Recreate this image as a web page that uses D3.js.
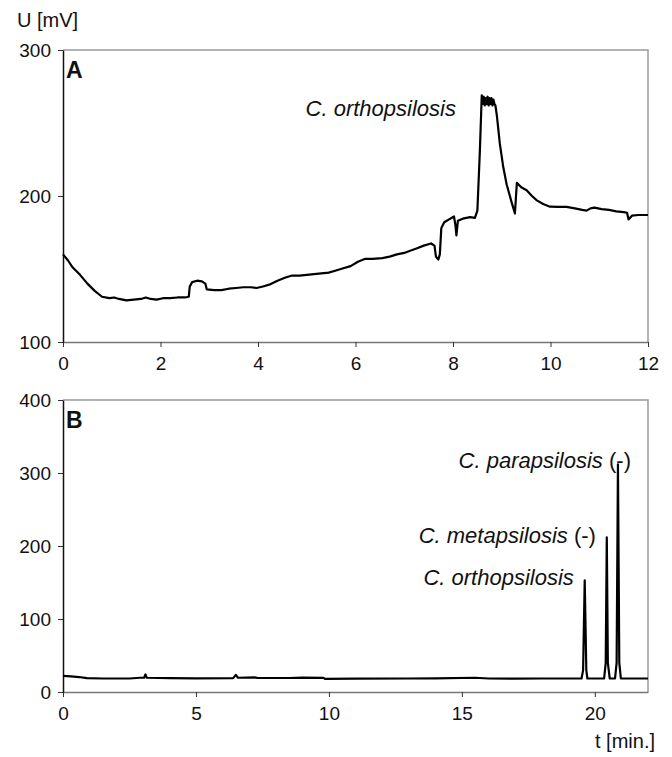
<!DOCTYPE html>
<html>
<head>
<meta charset="utf-8">
<script src="https://cdn.jsdelivr.net/npm/d3@7"></script>
<style>
  body { margin: 0; background: #fff; }
  text { font-family: "Liberation Sans", Arial, sans-serif; fill: #111; }
</style>
</head>
<body>
<div id="chart"></div>
<script>
// panel A: time [min] and signal [mV]
const timeA = [0,0.1,0.2,0.35,0.5,0.65,0.8,0.95,1.05,1.15,1.3,1.45,1.6,1.7,1.8,1.92,2.05,2.2,2.35,2.5,2.58,2.6,2.65,2.75,2.85,2.92,2.95,3.1,3.25,3.4,3.55,3.7,3.85,3.97,4.1,4.25,4.4,4.55,4.7,4.85,5,5.15,5.3,5.45,5.6,5.75,5.9,6.05,6.2,6.35,6.55,6.7,6.85,7,7.12,7.25,7.4,7.55,7.62,7.65,7.7,7.73,7.76,7.82,7.92,8.02,8.05,8.07,8.1,8.2,8.35,8.45,8.5,8.55,8.59,8.61,8.63,8.65,8.67,8.69,8.71,8.73,8.75,8.77,8.79,8.81,8.83,8.85,8.87,8.9,8.96,9.03,9.1,9.2,9.27,9.31,9.4,9.51,9.62,9.72,9.85,9.99,10.15,10.33,10.5,10.65,10.74,10.82,10.9,11.05,11.2,11.35,11.5,11.57,11.6,11.63,11.67,11.8,12];
const signalA = [160,156,151,146,140,135,131,130,130.5,129.5,128.5,129,129.5,130.5,129.5,129,130,130,130.5,130.5,131,138,141,142,141.5,140,136,135.5,135.5,136.5,137,137.5,137.5,137,138,139.5,142,144,145.5,145.5,146,146.5,147,147.5,149,150.5,152,155,157,157,157.5,158.5,160,161,162.5,164,166,167.5,166,158.5,156.5,160,178,182,184,186,180,173,183,184.5,185.5,185,190,230,269,263,268,262,267,263,268,262,267,263,267,262,266,263,262,255,236,220,208,196,188,209,206,204,200,197,194.5,192.7,192.5,192.5,191.5,190.5,190,191.5,192,191,190.5,189.5,189,188.5,184,185,186.5,187,187];

// panel B
const timeB = [0,0.3,0.6,0.9,1.5,2.5,2.9,3.05,3.1,3.15,4,5,6.4,6.5,6.58,7.2,7.3,8.5,9,9.8,9.85,11,13,14,15.5,16,17,18,19.5,19.56,19.62,19.68,19.72,20.35,20.41,20.45,20.49,20.56,20.76,20.82,20.87,20.92,20.98,22];
const signalB = [22,21.5,20.5,19,18.5,18.5,19.5,19.5,24,19.5,19,18.8,19,23.5,19.5,20,19.3,19.2,19.8,19.3,18,18.3,18.5,18.8,19.5,18.5,18.3,18.5,18.5,30,153,30,18.5,18.5,40,212,40,18.5,18.5,40,312,40,18.5,18.5];

const ticksAx = [0,2,4,6,8,10,12];
const ticksAy = [100,200,300];
const ticksBx = [0,5,10,15,20];
const ticksBy = [0,100,200,300,400];

// label anchors in data units [t, U], text end aligned
const labelsA = [{ name: "C. orthopsilosis", tail: "", t: 8.06, u: 255 }];
const labelsB = [
  { name: "C. parapsilosis", tail: " (-)", t: 21.36, u: 307 },
  { name: "C. metapsilosis", tail: " (-)", t: 20.04, u: 204 },
  { name: "C. orthopsilosis", tail: "", t: 19.21, u: 147 }
];

const W = 672, H = 757;
const svg = d3.select("#chart").append("svg").attr("width", W).attr("height", H);

function panel(opt) {
  const x = d3.scaleLinear().domain(opt.xDomain).range([63, 648]);
  const y = d3.scaleLinear().domain(opt.yDomain).range([opt.bottom, opt.top]);
  const g = svg.append("g");

  // frame (top + right)
  g.append("path")
    .attr("d", `M${x.range()[0]},${opt.top}H${x.range()[1]}V${opt.bottom}`)
    .attr("fill", "none").attr("stroke", "#9a9a9a").attr("stroke-width", 1.5);

  const xa = g.append("g").attr("transform", `translate(0,${opt.bottom})`)
    .call(d3.axisBottom(x).tickValues(opt.xTicks).tickSize(5).tickPadding(10).tickSizeOuter(0));
  xa.select(".domain").attr("stroke", "#777").attr("stroke-width", 1.5);
  xa.selectAll(".tick line").attr("stroke", "#333");
  xa.selectAll("text").style("font-size", "19px");

  const ya = g.append("g").attr("transform", `translate(63,0)`)
    .call(d3.axisLeft(y).tickValues(opt.yTicks).tickSize(5).tickPadding(7).tickSizeOuter(0));
  ya.select(".domain").attr("stroke", "#111").attr("stroke-width", 1.5);
  ya.selectAll(".tick line").attr("stroke", "#333");
  ya.selectAll("text").style("font-size", "19px");

  const line = d3.line().x((d, i) => x(opt.t[i])).y(d => y(d));
  g.append("path").datum(opt.u)
    .attr("d", line)
    .attr("fill", "none").attr("stroke", "#000").attr("stroke-width", 2.2)
    .attr("stroke-linejoin", "round");

  g.append("text").attr("x", 66).attr("y", opt.top + 28)
    .style("font-size", "23px").style("font-weight", "bold").text(opt.letter);

  opt.labels.forEach(l => {
    const t = g.append("text").attr("x", x(l.t)).attr("y", y(l.u))
      .attr("text-anchor", "end").style("font-size", "22px");
    t.append("tspan").style("font-style", "italic").text(l.name);
    if (l.tail) t.append("tspan").text(l.tail);
  });
}

panel({ xDomain: [0, 12], yDomain: [100, 300], top: 50, bottom: 342,
  xTicks: ticksAx, yTicks: ticksAy, t: timeA, u: signalA, letter: "A", labels: labelsA });
panel({ xDomain: [0, 22], yDomain: [0, 400], top: 400, bottom: 692,
  xTicks: ticksBx, yTicks: ticksBy, t: timeB, u: signalB, letter: "B", labels: labelsB });

svg.append("text").attr("x", 17).attr("y", 27).style("font-size", "20px").text("U [mV]");
svg.append("text").attr("x", 655).attr("y", 748).attr("text-anchor", "end")
  .style("font-size", "20px").text("t [min.]");
</script>
</body>
</html>
